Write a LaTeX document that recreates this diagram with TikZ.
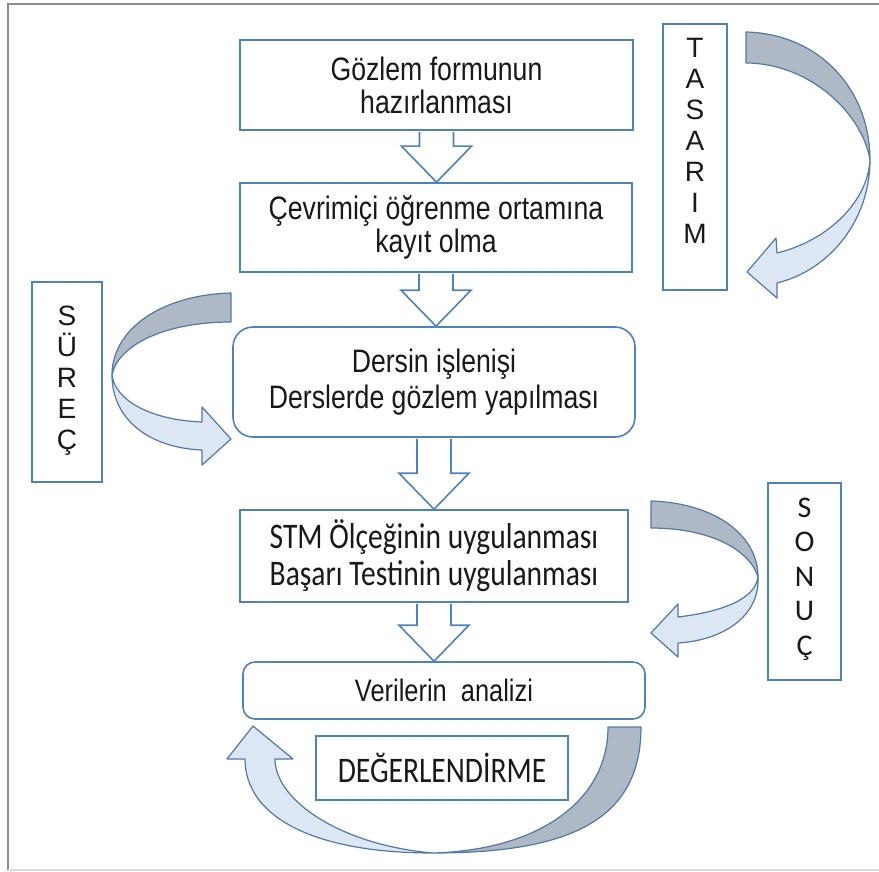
\documentclass[tikz,border=0pt]{standalone}
\usepackage{fontspec}
\setmainfont{Liberation Sans}[FakeStretch=0.82]
\newfontfamily\calibrifont{Carlito}[FakeStretch=0.82]
\newfontfamily\letterfont{Liberation Sans}
\newfontfamily\calibriletter{Carlito}
\usetikzlibrary{calc}
\definecolor{boxblue}{RGB}{79,129,189}
\definecolor{ribbonline}{RGB}{84,120,165}
\definecolor{ribbondark}{RGB}{175,185,197}
\definecolor{ribbonlight}{RGB}{221,231,243}
\definecolor{framegray}{RGB}{140,140,140}
\definecolor{textgray}{RGB}{25,25,25}
\tikzset{
  stepbox/.style={draw=boxblue, line width=0.8pt, fill=white, align=center, text=textgray,
    font=\fontsize{16.25}{16.5}\selectfont, inner sep=0pt},
  roundbox/.style={stepbox, rounded corners=10pt},
  sidebox/.style={draw=boxblue, line width=0.8pt, fill=white, inner sep=0pt},
  sidetext/.style={align=center, text=textgray, font=\letterfont\fontsize{14}{15.5}\selectfont},
  blockarr/.style={draw=boxblue, line width=0.8pt, fill=white, line join=miter},
  ribbon/.style={draw=ribbonline, line width=0.6pt, line join=round},
}
% block arrow from the bottom of #1 to the top of #2
\newcommand{\flowarrow}[2]{%
  \draw[blockarr] ($(#1.south)+(-17,1)$) -- ($(#1.south |- #2.north)+(-17,-36)$)
    -- ($(#1.south |- #2.north)+(-35,-36)$) -- (#1.south |- #2.north)
    -- ($(#1.south |- #2.north)+(35,-36)$) -- ($(#1.south |- #2.north)+(17,-36)$)
    -- ($(#1.south)+(17,1)$);}
\begin{document}
\begin{tikzpicture}[x=0.5pt, y=-0.5pt]
\useasboundingbox (0,0) rectangle (879,872);
% frame
\draw[framegray, line width=1.2pt] (8,870) -- (8,4) -- (879,4);
\draw[gray!30, line width=1pt] (8,870) -- (879,870);

% main steps
\node[stepbox, minimum width=196.5pt, minimum height=45pt] (gozlem) at (436.5,85)
  {Gözlem formunun\\hazırlanması};
\node[stepbox, minimum width=196pt, minimum height=44.5pt, font=\fontsize{16.25}{15}\selectfont]
  (kayit) at (436,227.5) {Çevrimiçi öğrenme ortamına\\kayıt olma};
\node[roundbox, minimum width=201pt, minimum height=55pt, font=\fontsize{16.25}{18}\selectfont]
  (ders) at (434,382) {Dersin işlenişi\\Derslerde gözlem yapılması};
\node[stepbox, minimum width=194pt, minimum height=46pt, font=\calibrifont\fontsize{18}{18.5}\selectfont]
  (olcek) at (434,556) {STM Ölçeğinin uygulanması\\Başarı Testinin uygulanması};
\node[stepbox, rounded corners=6pt, minimum width=201pt, minimum height=28.5pt, font=\fontsize{15.5}{17}\selectfont]
  (analiz) at (444,690.5) {Verilerin\ \ analizi};
\node[stepbox, minimum width=126pt, minimum height=32pt, font=\calibrifont\fontsize{18}{18}\selectfont]
  (degerlendirme) at (442,768) {DEĞERLENDİRME};

% arrows between steps
\flowarrow{gozlem}{kayit}
\flowarrow{kayit}{ders}
\flowarrow{ders}{olcek}
\flowarrow{olcek}{analiz}

% phase labels
\node[sidebox, minimum width=32pt, minimum height=133pt] (tasarim) at (695,157) {};
\node[sidetext] (tasarimtxt) at (695,141) {T\\A\\S\\A\\R\\I\\M};
\node[sidebox, minimum width=35pt, minimum height=100pt] (surec) at (67,382) {};
\node[sidetext] (surectxt) at (67,381) {S\\Ü\\R\\E\\Ç};
\node[sidebox, minimum width=36.5pt, minimum height=98.5pt] (sonuc) at (804.5,581.5) {};
\node[sidetext, font=\calibriletter\fontsize{15}{17.3}\selectfont] (sonuctxt) at (804.5,579) {S\\O\\N\\U\\Ç};

% curved arrows
\draw[ribbon, fill=ribbondark] (746,32) .. controls (820,34) and (870,90) .. (870,160)
  .. controls (862,112) and (808,63) .. (746,63) -- cycle;
\draw[ribbon, fill=ribbonlight] (870,160) .. controls (870,220) and (830,270) .. (777,283)
  -- (777,298) -- (747,272) -- (776,238) -- (777,253)
  .. controls (830,240) and (868,200) .. (870,160) -- cycle;

\draw[ribbon, fill=ribbondark] (231,293) .. controls (160,295) and (112,330) .. (112,375)
  .. controls (118,345) and (165,322) .. (231,322) -- cycle;
\draw[ribbon, fill=ribbonlight] (112,375) .. controls (112,420) and (150,448) .. (202,450)
  -- (202,465) -- (231,439) -- (202,407) -- (202,422)
  .. controls (150,420) and (115,400) .. (112,375) -- cycle;

\draw[ribbon, fill=ribbondark] (651,501) .. controls (715,503) and (758,535) .. (758,577)
  .. controls (750,550) and (710,528) .. (651,528) -- cycle;
\draw[ribbon, fill=ribbonlight] (758,577) .. controls (760,615) and (725,640) .. (678,643)
  -- (678,657) -- (651,633) -- (678,604) -- (678,617)
  .. controls (720,612) and (755,600) .. (758,577) -- cycle;

\draw[ribbon, fill=ribbondark] (608,727) -- (641,727) .. controls (641,820) and (570,853) .. (433,853)
  .. controls (540,850) and (608,800) .. (608,727) -- cycle;
\draw[ribbon, fill=ribbonlight] (433,853) .. controls (310,853) and (245,815) .. (245,759)
  -- (227,759) -- (253,726) -- (293,759) -- (275,759)
  .. controls (275,800) and (340,845) .. (433,853) -- cycle;
\end{tikzpicture}
\end{document}
